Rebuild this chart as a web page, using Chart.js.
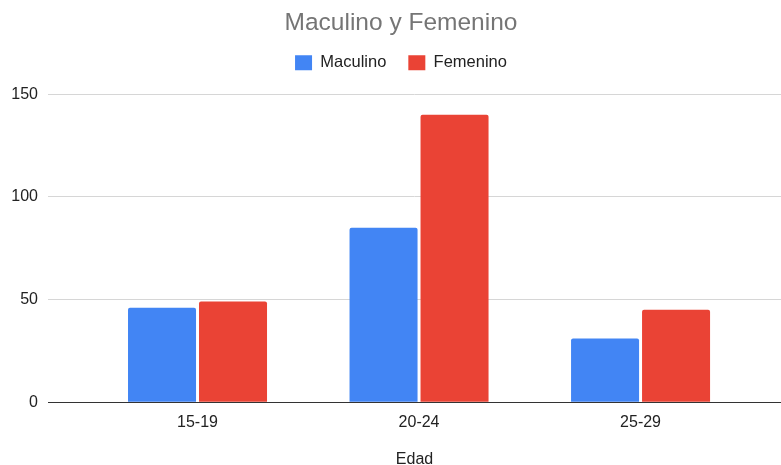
<!DOCTYPE html>
<html>
<head>
<meta charset="utf-8">
<script src="https://cdn.jsdelivr.net/npm/chart.js@4/dist/chart.umd.min.js"></script>
<style>
  html, body { margin: 0; padding: 0; background: #ffffff; }
  #wrap { width: 781px; height: 465px; }
</style>
</head>
<body>
<div id="wrap"><canvas id="c" width="781" height="465"></canvas></div>
<script>
// Age groups and counts per sex
const edades = ['15-19', '20-24', '25-29'];
const maculino = [46, 85, 31];
const femenino = [49, 140, 45];
const yTicks = [0, 50, 100, 150];

const FONT = "'Liberation Sans', Arial, sans-serif";

const toPoints = (vals) => vals.map((v, i) => ({ x: i, y: v }));

// Header layout: a fixed band for the legend, and title + legend
// nudged so they sit centred over the plot rather than the canvas
const headerLayout = {
  id: 'headerLayout',
  beforeLayout(chart) {
    const lg = chart.legend;
    if (lg && !lg._bandWrapped) {
      const fit = lg.fit.bind(lg);
      lg.fit = function () { fit(); this.height = 61.7; };
      lg._bandWrapped = true;
    }
    [chart.titleBlock, chart.legend].forEach((box) => {
      if (box && !box._shiftWrapped) {
        const draw = box.draw.bind(box);
        box.draw = function (area) {
          const ctx = chart.ctx;
          ctx.save();
          ctx.translate(10.5, 0);
          draw(area);
          ctx.restore();
        };
        box._shiftWrapped = true;
      }
    });
  }
};

new Chart(document.getElementById('c'), {
  type: 'bar',
  data: {
    datasets: [
      {
        label: 'Maculino',
        data: toPoints(maculino),
        backgroundColor: '#4285F4',
        borderRadius: { topLeft: 2, topRight: 2 },
        borderSkipped: 'bottom',
        categoryPercentage: 0.641,
        barPercentage: 0.958
      },
      {
        label: 'Femenino',
        data: toPoints(femenino),
        backgroundColor: '#EA4335',
        borderRadius: { topLeft: 2, topRight: 2 },
        borderSkipped: 'bottom',
        categoryPercentage: 0.641,
        barPercentage: 0.958
      }
    ]
  },
  options: {
    responsive: false,
    animation: false,
    layout: { padding: { left: 0, right: 0, top: 0, bottom: 0 } },
    scales: {
      x: {
        type: 'linear',
        offset: false,
        min: -0.675,
        max: 2.634,
        afterBuildTicks: (axis) => { axis.ticks = edades.map((_, i) => ({ value: i })); },
        afterFit: (scale) => { scale.height = 62.7; },
        grid: { display: false, drawTicks: false, offset: false },
        border: { display: true, color: '#333333', width: 1 },
        ticks: {
          padding: 11,
          color: '#222222',
          font: { family: FONT, size: 16 },
          callback: (v) => edades[v] ?? ''
        },
        title: {
          display: true,
          text: 'Edad',
          color: '#222222',
          font: { family: FONT, size: 16 },
          padding: { top: 14, bottom: -4 }
        }
      },
      y: {
        min: 0,
        max: 150,
        afterBuildTicks: (axis) => { axis.ticks = yTicks.map(v => ({ value: v })); },
        afterFit: (scale) => { scale.width = 48; },
        grid: { color: '#d6d6d6', lineWidth: 1, drawTicks: false },
        border: { display: false },
        ticks: {
          padding: 10,
          color: '#222222',
          font: { family: FONT, size: 16 }
        }
      }
    },
    plugins: {
      title: {
        display: true,
        text: 'Maculino y Femenino',
        color: '#757575',
        font: { family: FONT, size: 24.5, weight: 'normal' },
        padding: { top: 9, bottom: -6 }
      },
      legend: {
        display: true,
        position: 'top',
        labels: {
          boxWidth: 17,
          boxHeight: 15,
          padding: 22,
          color: '#222222',
          font: { family: FONT, size: 16.5 }
        }
      },
      tooltip: { enabled: false }
    }
  },
  plugins: [headerLayout]
});
</script>
</body>
</html>
